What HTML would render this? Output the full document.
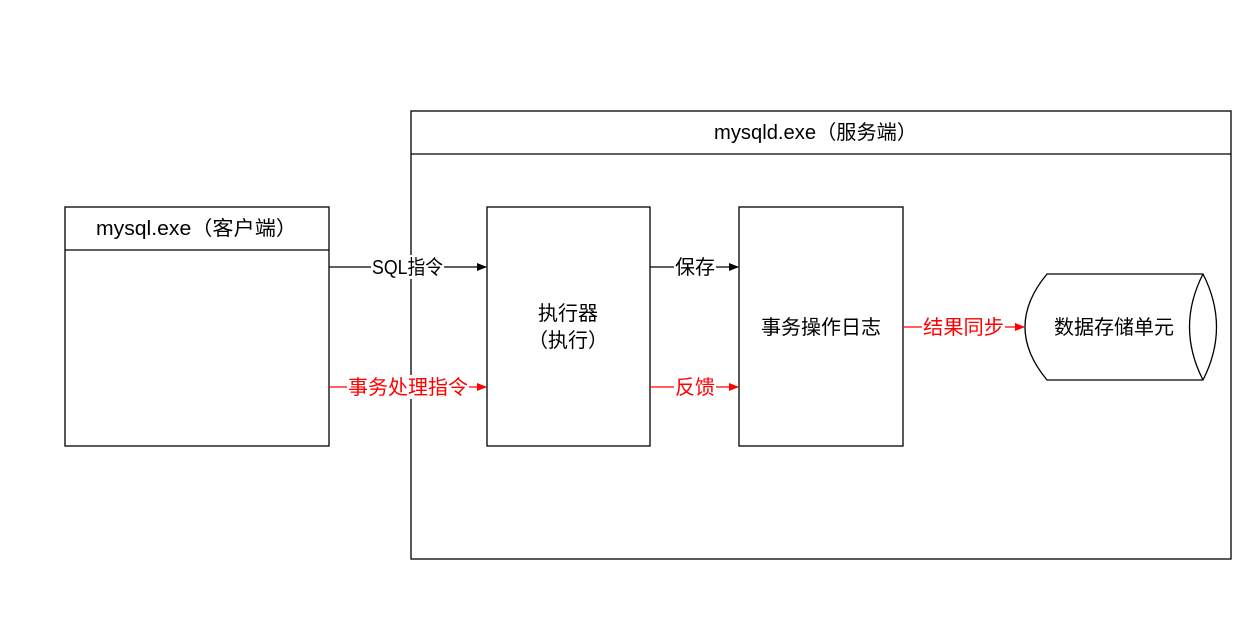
<!DOCTYPE html>
<html><head><meta charset="utf-8"><style>
body{margin:0;background:#fff}
svg text{font-family:"Liberation Sans","Noto Sans CJK SC",sans-serif;font-size:20px}
</style></head><body>
<svg width="1251" height="636" xmlns="http://www.w3.org/2000/svg">
<defs>
<marker id="ab" markerWidth="10" markerHeight="10" refX="9" refY="5" orient="auto" markerUnits="userSpaceOnUse"><path d="M0,1 L10,5 L0,9Z" fill="#000"/></marker>
<marker id="ar" markerWidth="10" markerHeight="10" refX="9" refY="5" orient="auto" markerUnits="userSpaceOnUse"><path d="M0,1 L10,5 L0,9Z" fill="#f00"/></marker>
</defs>
<g fill="none" stroke="#000" stroke-width="1.3">
<rect x="411" y="111" width="820" height="448"/>
<line x1="411" y1="154" x2="1231" y2="154"/>
<rect x="65" y="207" width="264" height="239"/>
<line x1="65" y1="250" x2="329" y2="250"/>
<rect x="487" y="207" width="163" height="239"/>
<rect x="739" y="207" width="164" height="239"/>
<path d="M1047,274 L1203,274 Q1230,327 1203,380 L1047,380 Q1003,327 1047,274Z"/>
<path d="M1203,274 Q1176,327 1203,380"/>
</g>
<g stroke-width="1.3">
<line x1="329" y1="267" x2="486" y2="267" stroke="#000" marker-end="url(#ab)"/>
<line x1="329" y1="387" x2="486" y2="387" stroke="#f00" marker-end="url(#ar)"/>
<line x1="650" y1="267" x2="738" y2="267" stroke="#000" marker-end="url(#ab)"/>
<line x1="650" y1="387" x2="738" y2="387" stroke="#f00" marker-end="url(#ar)"/>
<line x1="903" y1="327" x2="1024" y2="327" stroke="#f00" marker-end="url(#ar)"/>
</g>
<g fill="#fff">
<rect x="371" y="255" width="73" height="24"/>
<rect x="347" y="375" width="122" height="24"/>
<rect x="674" y="255" width="42" height="24"/>
<rect x="674" y="375" width="42" height="24"/>
<rect x="922" y="315" width="83" height="24"/>
</g>
<text x="372" y="274" textLength="71" lengthAdjust="spacingAndGlyphs">SQL指令</text>
<text x="348" y="394" fill="#f00" textLength="120" lengthAdjust="spacingAndGlyphs">事务处理指令</text>
<text x="675" y="274" textLength="40" lengthAdjust="spacingAndGlyphs">保存</text>
<text x="675" y="394" fill="#f00" textLength="40" lengthAdjust="spacingAndGlyphs">反馈</text>
<text x="923" y="334" fill="#f00" textLength="81" lengthAdjust="spacingAndGlyphs">结果同步</text>
<text x="714" y="139" textLength="203" lengthAdjust="spacingAndGlyphs">mysqld.exe（服务端）</text>
<text x="96" y="235" textLength="201" lengthAdjust="spacingAndGlyphs">mysql.exe（客户端）</text>
<text x="568" y="320" text-anchor="middle">执行器</text>
<text x="568" y="347" text-anchor="middle">（执行）</text>
<text x="821" y="334" text-anchor="middle">事务操作日志</text>
<text x="1114" y="334" text-anchor="middle">数据存储单元</text>
</svg>
</body></html>
